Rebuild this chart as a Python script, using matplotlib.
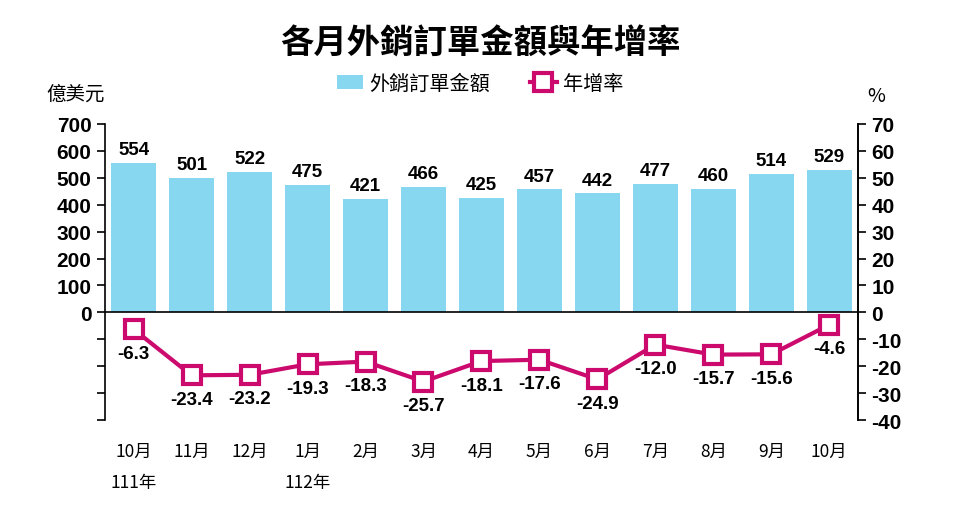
import matplotlib.pyplot as plt

plt.rcParams['font.family'] = ['Noto Sans CJK TC', 'DejaVu Sans']
plt.rcParams['axes.unicode_minus'] = False

# 資料
months = ['10月', '11月', '12月', '1月', '2月', '3月', '4月', '5月', '6月', '7月', '8月', '9月', '10月']
years = {0: '111年', 3: '112年'}
orders = [554, 501, 522, 475, 421, 466, 425, 457, 442, 477, 460, 514, 529]  # 億美元
growth = [-6.3, -23.4, -23.2, -19.3, -18.3, -25.7, -18.1, -17.6, -24.9, -12.0, -15.7, -15.6, -4.6]  # %

bar_color = '#87D7F1'
line_color = '#CC0A6E'
num_font = ['Liberation Sans', 'DejaVu Sans']

fig = plt.figure(figsize=(9.6, 5.1), dpi=100)
ax = fig.add_axes([0.109, 0.1745, 0.785, 0.5805])
ax2 = ax.twinx()

x = list(range(len(months)))
ax.bar(x, orders, width=0.78, color=bar_color, label='外銷訂單金額', zorder=2)
for xi, v in zip(x, orders):
    ax.text(xi, v + 18, str(v), ha='center', va='bottom', fontsize=13.5,
            fontweight='bold', family=num_font)

ax2.plot(x, growth, color=line_color, linewidth=3, marker='s', markersize=13,
         markerfacecolor='white', markeredgewidth=3, label='年增率', zorder=3)
for xi, v in zip(x, growth):
    ax2.text(xi, v - 5.8, f'{v:.1f}', ha='center', va='top', fontsize=13.5,
             fontweight='bold', family=num_font)

ax.set_xlim(-0.5, len(months) - 0.5)
ax.set_ylim(-400, 700)
ax2.set_ylim(-40, 70)
ax.set_yticks(range(-400, 701, 100))
ax.set_yticklabels(['' if t < 0 else str(t) for t in range(-400, 701, 100)])
ax2.set_yticks(range(-40, 71, 10))

ax.axhline(0, color='black', linewidth=1.2, zorder=4)
for a in (ax, ax2):
    a.spines['top'].set_visible(False)
    a.spines['bottom'].set_visible(False)
    a.spines['left'].set_linewidth(1.2)
    a.spines['right'].set_linewidth(1.2)
    a.tick_params(axis='y', length=6, width=1.2, labelsize=15)
    for lab in a.get_yticklabels():
        lab.set_fontweight('bold')
        lab.set_family(num_font)
ax2.spines['left'].set_visible(False)
ax.set_xticks([])

# 月份與年份
for xi, m in zip(x, months):
    ax.text(xi, -0.105, m, transform=ax.get_xaxis_transform(), ha='center', va='center', fontsize=12.5)
for xi, yr in years.items():
    ax.text(xi, -0.21, yr, transform=ax.get_xaxis_transform(), ha='center', va='center', fontsize=12.5)

fig.text(0.5, 0.913, '各月外銷訂單金額與年增率', ha='center', va='center', fontsize=24, fontweight='bold')
fig.text(0.079, 0.815, '億美元', ha='center', va='center', fontsize=14)
fig.text(0.913, 0.81, '%', ha='center', va='center', fontsize=14)

h1, l1 = ax.get_legend_handles_labels()
h2, l2 = ax2.get_legend_handles_labels()
fig.legend(h1 + h2, l1 + l2, loc='center', bbox_to_anchor=(0.5, 0.835), ncol=2, frameon=False,
           fontsize=14.5, handlelength=1.3, handletextpad=0.3, columnspacing=2.0)

fig.savefig('out.png', dpi=100)
